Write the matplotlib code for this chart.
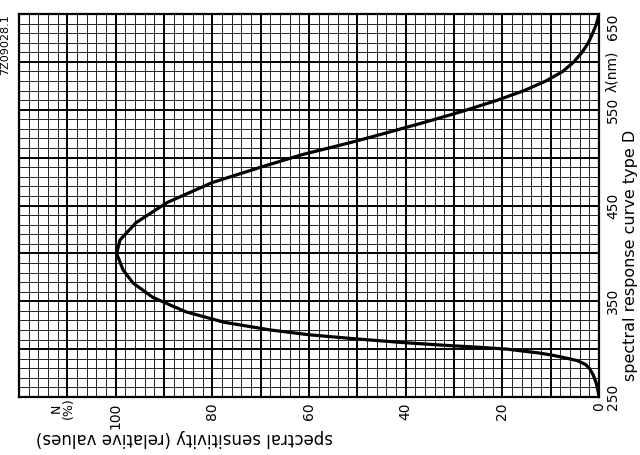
import matplotlib.pyplot as plt
import numpy as np

# curva espectral tipo D
longitud_onda = [250, 255, 265, 273, 280, 284, 288, 292, 294, 296, 300, 302, 304, 307,
                 311, 315, 320, 328, 339, 354, 369, 383, 400, 414, 432, 453, 474,
                 490, 503, 515, 521, 537, 548, 560, 570, 580, 590, 600, 610, 620,
                 630, 640, 650]
sensibilidad = [0, 0.15, 0.6, 1.2, 2.0, 2.8, 4.5, 8, 10, 12.5, 19, 25, 32, 41,
                51, 60, 68, 77.5, 85.5, 92.3, 96.4, 98.5, 99.8, 99.1, 95.8, 89.4, 80,
                70, 61.5, 52, 47.5, 36, 28.5, 21, 15.5, 11, 7.5, 5.2, 3.5, 2.2,
                1.3, 0.5, 0]

ticks_s = [0, 20, 40, 60, 80, 100]
ticks_l = [250, 350, 450, 550, 650]

fig = plt.figure(figsize=(6.4, 4.55), dpi=100)
ax = fig.add_axes([19 / 640, (455 - 397) / 455, 580 / 640, 383 / 455])

ax.plot(sensibilidad, longitud_onda, color='black', lw=2.3, solid_capstyle='round',
        solid_joinstyle='round', zorder=5)

ax.set_xlim(120, 0)
ax.set_ylim(250, 650)

# cuadricula de papel milimetrado
ax.set_xticks(np.arange(0, 121, 10))
ax.set_xticklabels([str(v) if v in ticks_s else '' for v in range(0, 121, 10)])
ax.set_xticks(np.arange(0, 121, 2), minor=True)
ax.set_yticks(np.arange(250, 651, 50))
ax.set_yticklabels([str(v) if v in ticks_l else '' for v in range(250, 651, 50)])
ax.set_yticks(np.arange(250, 651, 10), minor=True)
ax.grid(which='major', color='black', lw=1.4)
ax.grid(which='minor', color='black', lw=0.6)
ax.set_axisbelow(True)
for sp in ax.spines.values():
    sp.set_linewidth(1.6)

ax.yaxis.tick_right()
ax.tick_params(which='both', length=0)
ax.tick_params(axis='x', pad=4, labelsize=10, labelrotation=90)
ax.tick_params(axis='y', pad=5, labelsize=10, labelrotation=90)
for t in ax.get_yticklabels():
    t.set_va('center')
ax.get_yticklabels()[-1].set_va('top')

ax.annotate('λ(nm)', xy=(1, 590), xycoords=('axes fraction', 'data'),
            xytext=(9.5, 0), textcoords='offset points', rotation=90,
            ha='center', va='center', fontsize=10)
ax.annotate('N\n(%)', xy=(111, 0), xycoords=('data', 'axes fraction'),
            xytext=(0, -8), textcoords='offset points', rotation=90,
            ha='center', va='center', fontsize=9, multialignment='center',
            linespacing=0.95)

fig.text(184 / 640, 1 - 438 / 455, 'spectral sensitivity (relative values)',
         rotation=180, ha='center', va='center', fontsize=12)
fig.text(630 / 640, 1 - 255 / 455, 'spectral response curve type D',
         rotation=90, ha='center', va='center', fontsize=11.5)
fig.text(5 / 640, 1 - 45 / 455, '7Z09028.1', rotation=90,
         ha='center', va='center', fontsize=8)

fig.savefig('out.png', dpi=100)
